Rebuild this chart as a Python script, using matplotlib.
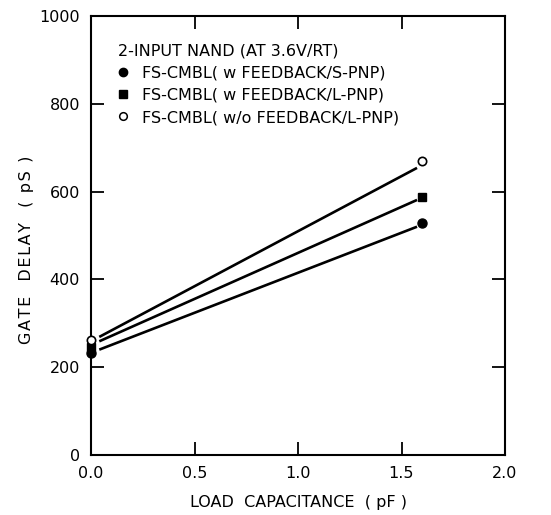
import matplotlib
matplotlib.use("Agg")
import matplotlib.pyplot as plt
from matplotlib.lines import Line2D
import numpy as np

# load capacitance (pF) and gate delay (pS)
load_cap = [0.0, 1.6]
delay_s_pnp = [232, 528]      # w feedback / S-PNP
delay_l_pnp = [246, 588]      # w feedback / L-PNP
delay_nofb = [262, 670]       # w/o feedback / L-PNP

# fitted line ends (pS) at x = 0.04 and 1.575
line_x = [0.04, 1.575]
line_s_pnp = [240, 520]
line_l_pnp = [259, 581]
line_nofb = [269, 654]

labels = ["FS-CMBL( w FEEDBACK/S-PNP)",
          "FS-CMBL( w FEEDBACK/L-PNP)",
          "FS-CMBL( w/o FEEDBACK/L-PNP)"]
title = "2-INPUT NAND (AT 3.6V/RT)"
x_ticks = [0.0, 0.5, 1.0, 1.5, 2.0]
y_ticks = [0, 200, 400, 600, 800, 1000]

plt.rcParams['font.family'] = ['DejaVu Sans']


def spaced(s):
    # old plotter lettering is wider spaced
    return '\u200a'.join(s)


fig = plt.figure(figsize=(5.51, 5.15), dpi=100)
ax = fig.add_axes([91 / 551, 1 - 455 / 515, 414 / 551, 439 / 515])

for ly in (line_s_pnp, line_l_pnp, line_nofb):
    ax.plot(line_x, ly, color='black', lw=1.9, solid_capstyle='butt')

ax.plot(load_cap, delay_s_pnp, 'o', color='black', ms=6.5, clip_on=False, zorder=5)
ax.plot(load_cap, delay_l_pnp, 's', color='black', ms=6, clip_on=False, zorder=5)
ax.plot(load_cap, delay_nofb, 'o', mfc='white', mec='black', mew=1.2, ms=6,
        clip_on=False, zorder=6)

handles = [Line2D([], [], ls='none', marker='o', color='black', ms=6),
           Line2D([], [], ls='none', marker='s', color='black', ms=5.5),
           Line2D([], [], ls='none', marker='o', mfc='white', mec='black', mew=1.1, ms=5.5)]
leg = ax.legend(handles, labels, title=title, loc='upper left',
                bbox_to_anchor=(0.05, 0.952), frameon=False, fontsize=11.5,
                title_fontsize=11.5, alignment='left', handlelength=0.6,
                handletextpad=0.9, labelspacing=0.45, borderaxespad=0)

ax.set_xlim(0, 2.0)
ax.set_ylim(0, 1000)
ax.set_xticks(x_ticks)
ax.set_xticklabels([f"{v:.1f}" for v in x_ticks])
ax.set_yticks(y_ticks)
ax.tick_params(direction='in', length=9.5, width=1.3, top=True, right=True,
               labelsize=11.5, pad=8)
for s in ax.spines.values():
    s.set_linewidth(1.5)

ax.set_xlabel("LOAD  CAPACITANCE  ( pF )", fontsize=11.5, labelpad=10)
ax.set_ylabel(spaced("GATE  DELAY  ( pS )"), fontsize=11.5, va='center')
ax.yaxis.set_label_coords(-0.157, 0.467)

fig.savefig("out.png", dpi=100)
